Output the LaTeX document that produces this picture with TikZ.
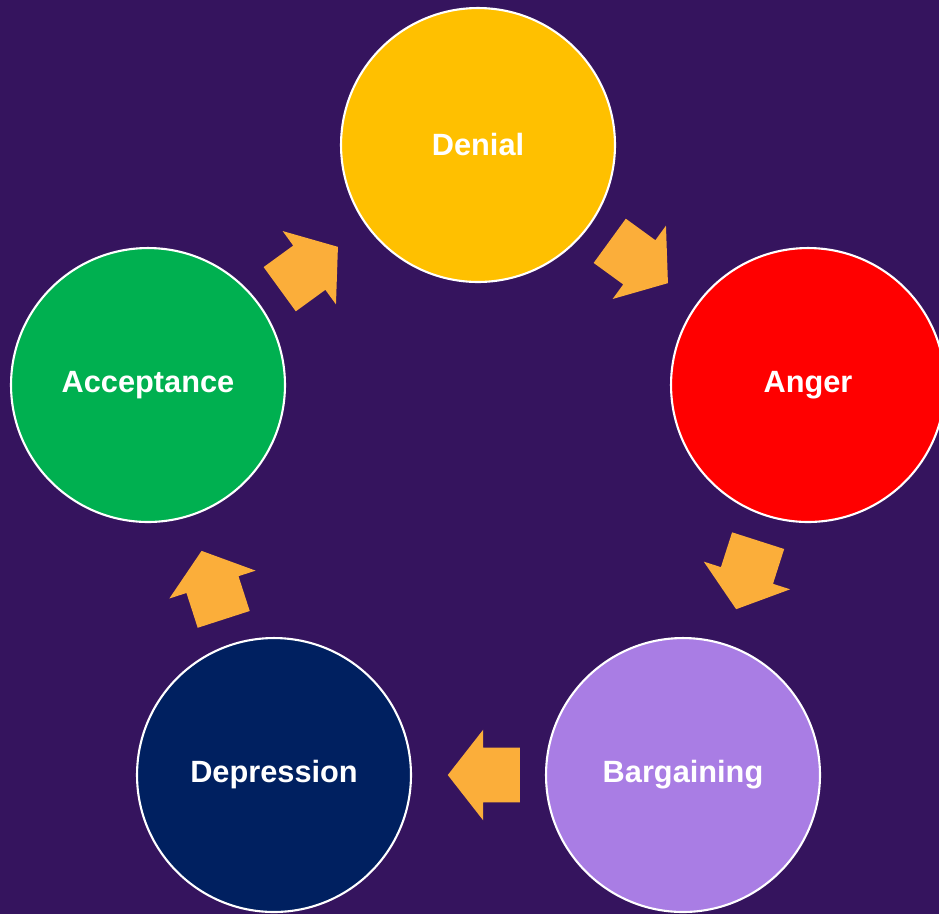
\documentclass[tikz,border=0pt]{standalone}
\usepackage{fontspec}
\setmainfont{Liberation Sans}
\usetikzlibrary{shapes.arrows,calc}

\definecolor{bgpurple}{RGB}{53,20,94}
\definecolor{denialcol}{RGB}{255,192,0}
\definecolor{angercol}{RGB}{255,0,0}
\definecolor{bargaincol}{RGB}{169,125,228}
\definecolor{depresscol}{RGB}{0,32,96}
\definecolor{acceptcol}{RGB}{0,176,80}
\definecolor{arrowcol}{RGB}{251,174,58}

\begin{document}
\begin{tikzpicture}[
  x=0.02cm, y=-0.02cm,
  stage/.style={
    circle,
    draw=white,
    line width=1.2pt,
    minimum size=5.48cm,
    inner sep=0pt,
    text=white,
    font=\bfseries\fontsize{17.5}{20}\selectfont
  },
  flow/.style={
    single arrow,
    fill=arrowcol,
    draw=none,
    inner xsep=0pt,
    inner ysep=0.54cm,
    minimum height=1.44cm,
    single arrow head extend=0.36cm,
    single arrow tip angle=104,
    pos=0.38,
    sloped,
    allow upside down
  }
]

% background
\fill[bgpurple] (0,0) rectangle (939,914);
\useasboundingbox (0,0) rectangle (939,914);
\clip (0,0) rectangle (939,914);

\node[stage, fill=denialcol] (denial) at (478,145) {Denial};
\node[stage, fill=angercol] (anger) at (808,385) {Anger};
\node[stage, fill=bargaincol] (bargaining) at (683,775) {Bargaining};
\node[stage, fill=depresscol] (depression) at (274,775) {Depression};
\node[stage, fill=acceptcol] (acceptance) at (148,385) {Acceptance};

\path (denial) -- node[flow] (flow1) {} (anger);
\path (anger) -- node[flow] (flow2) {} (bargaining);
\path (bargaining) -- node[flow] (flow3) {} (depression);
\path (depression) -- node[flow] (flow4) {} (acceptance);
\path (acceptance) -- node[flow] (flow5) {} (denial);
\end{tikzpicture}
\end{document}
